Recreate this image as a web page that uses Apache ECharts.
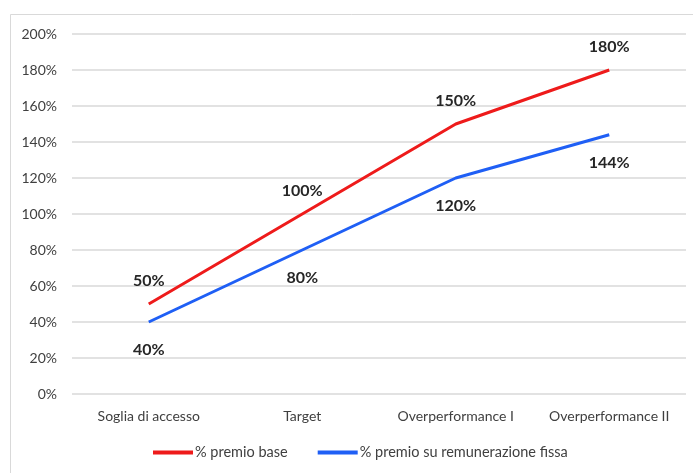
<!DOCTYPE html>
<html>
<head>
<meta charset="utf-8">
<script src="https://cdn.jsdelivr.net/npm/echarts@6/dist/echarts.min.js"></script>
<style>
  html, body { margin: 0; padding: 0; background: #fff; }
  #chart { width: 693px; height: 473px; }
</style>
</head>
<body>
<div id="chart"></div>
<script>
// Livelli di performance e relative percentuali di premio
const categories = ['Soglia di accesso', 'Target', 'Overperformance I', 'Overperformance II'];
const premioBase = [50, 100, 150, 180];
const premioFissa = [40, 80, 120, 144];
const yTicks = { min: 0, max: 200, step: 20 };

const chart = echarts.init(document.getElementById('chart'));
const font = 'Lato, "Open Sans", sans-serif';

chart.setOption({
  animation: false,
  backgroundColor: '#ffffff',
  textStyle: { fontFamily: font },
  grid: { left: 72, right: 7, top: 34, bottom: 79 },
  graphic: [
    { type: 'line', shape: { x1: 10.5, y1: 14.5, x2: 693, y2: 14.5 }, style: { stroke: '#d9d9d9', lineWidth: 1 } },
    { type: 'line', shape: { x1: 10.5, y1: 14.5, x2: 10.5, y2: 473 }, style: { stroke: '#d9d9d9', lineWidth: 1 } }
  ],
  xAxis: {
    type: 'category',
    data: categories,
    boundaryGap: true,
    axisLine: { show: false },
    axisTick: { show: false },
    axisLabel: { interval: 0, color: '#404040', fontSize: 14, margin: 15, fontFamily: font }
  },
  yAxis: {
    type: 'value',
    min: yTicks.min,
    max: yTicks.max,
    interval: yTicks.step,
    axisLine: { show: false },
    axisTick: { show: false },
    axisLabel: { color: '#404040', fontSize: 14, margin: 15, formatter: v => v + '%', fontFamily: font },
    splitLine: { lineStyle: { color: '#d9d9d9', width: 1.5 } }
  },
  legend: {
    bottom: 8,
    left: 148,
    itemWidth: 40,
    itemHeight: 4,
    itemGap: 30,
    icon: 'rect',
    textStyle: { color: '#404040', fontSize: 14.5, fontFamily: font, padding: [0, 0, 0, -3] },
    data: ['% premio base', '% premio su remunerazione fissa']
  },
  series: [
    {
      name: '% premio base',
      type: 'line',
      data: premioBase,
      symbol: 'circle',
      symbolSize: 0.1,
      lineStyle: { color: '#ee1b1b', width: 3 },
      itemStyle: { color: '#ee1b1b' },
      label: {
        show: true, position: 'top', distance: 15,
        formatter: p => p.value + '%',
        color: '#262626', fontSize: 16, fontWeight: 'bold', fontFamily: font
      }
    },
    {
      name: '% premio su remunerazione fissa',
      type: 'line',
      data: premioFissa,
      symbol: 'circle',
      symbolSize: 0.1,
      lineStyle: { color: '#1f5ff5', width: 3 },
      itemStyle: { color: '#1f5ff5' },
      label: {
        show: true, position: 'bottom', distance: 20,
        formatter: p => p.value + '%',
        color: '#262626', fontSize: 16, fontWeight: 'bold', fontFamily: font
      }
    }
  ]
});
</script>
</body>
</html>
